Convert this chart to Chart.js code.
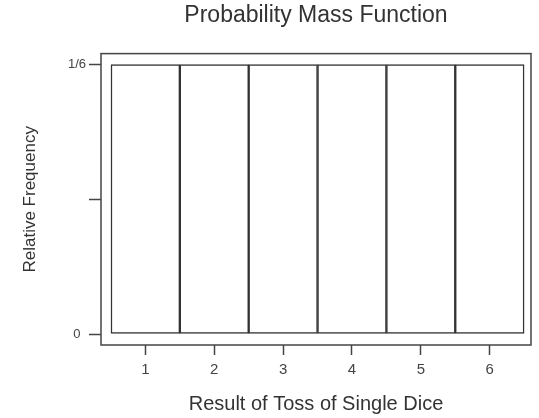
<!DOCTYPE html>
<html>
<head>
<meta charset="utf-8">
<script src="https://cdn.jsdelivr.net/npm/chart.js@4"></script>
<style>
  body { margin: 0; background: #fff; }
  canvas { display: block; }
</style>
</head>
<body>
<canvas id="pmfChart" width="539" height="418"></canvas>
<script>
// dice outcomes and their relative frequency
const outcomes = [1, 2, 3, 4, 5, 6];
const relFreq = [1/6, 1/6, 1/6, 1/6, 1/6, 1/6];
const xTickLabels = ['1', '2', '3', '4', '5', '6'];
const yTickValues = [0, 1/12, 1/6];
const yTickLabels = ['0', '', '1/6'];

const ink = '#3a3a3a';

// box round the plot area
const frameBox = {
  id: 'frameBox',
  afterDraw(chart) {
    const a = chart.chartArea;
    const c = chart.ctx;
    c.save();
    c.strokeStyle = '#444';
    c.lineWidth = 1.5;
    c.strokeRect(a.left, a.top, a.right - a.left, a.bottom - a.top);
    c.restore();
  }
};

Chart.defaults.font.family = '"Liberation Sans", Arial, sans-serif';
Chart.defaults.color = ink;

let ctx = document.getElementById('pmfChart').getContext('2d');
new Chart(ctx, {
  type: 'bar',
  data: {
    datasets: [{
      data: outcomes.map((x, i) => ({ x: x, y: relFreq[i] })),
      backgroundColor: '#fff',
      borderColor: '#333',
      borderWidth: 1.5,
      borderSkipped: false,
      barPercentage: 1,
      categoryPercentage: 1
    }]
  },
  plugins: [frameBox],
  options: {
    responsive: false,
    animation: false,
    layout: { padding: { left: 0, right: 8, top: 0, bottom: 0 } },
    plugins: {
      legend: { display: false },
      tooltip: { enabled: false },
      title: {
        display: true,
        text: 'Probability Mass Function',
        fullSize: false,
        color: '#333',
        font: { size: 23, weight: 'normal' },
        padding: { top: 2, bottom: 24 }
      }
    },
    scales: {
      x: {
        type: 'linear',
        offset: false,
        min: 0.355,
        max: 6.6,
        afterBuildTicks(scale) {
          scale.ticks = outcomes.map(v => ({ value: v }));
        },
        afterFit(scale) {
          scale.height = 73;
        },
        ticks: {
          padding: 6,
          color: '#444',
          font: { size: 15 },
          callback(value, index) {
            return xTickLabels[index];
          }
        },
        grid: {
          offset: false,
          drawOnChartArea: false,
          tickLength: 10,
          tickColor: '#444',
          tickWidth: 1.5
        },
        border: { display: false },
        title: {
          display: true,
          text: 'Result of Toss of Single Dice',
          color: '#333',
          font: { size: 20 },
          padding: { top: 0, bottom: 2 }
        }
      },
      y: {
        min: -0.0068,
        max: 0.1735,
        afterBuildTicks(scale) {
          scale.ticks = yTickValues.map(v => ({ value: v }));
        },
        afterFit(scale) {
          scale.width = 101;
        },
        ticks: {
          padding: 3,
          crossAlign: 'center',
          color: '#444',
          font: { size: 13 },
          callback(value, index) {
            return yTickLabels[index];
          }
        },
        grid: {
          drawOnChartArea: false,
          tickLength: 12,
          tickColor: '#444',
          tickWidth: 1.5
        },
        border: { display: false },
        title: {
          display: true,
          text: 'Relative Frequency',
          color: '#333',
          font: { size: 17 },
          padding: { top: 20, bottom: 0 }
        }
      }
    }
  }
});
</script>
</body>
</html>
